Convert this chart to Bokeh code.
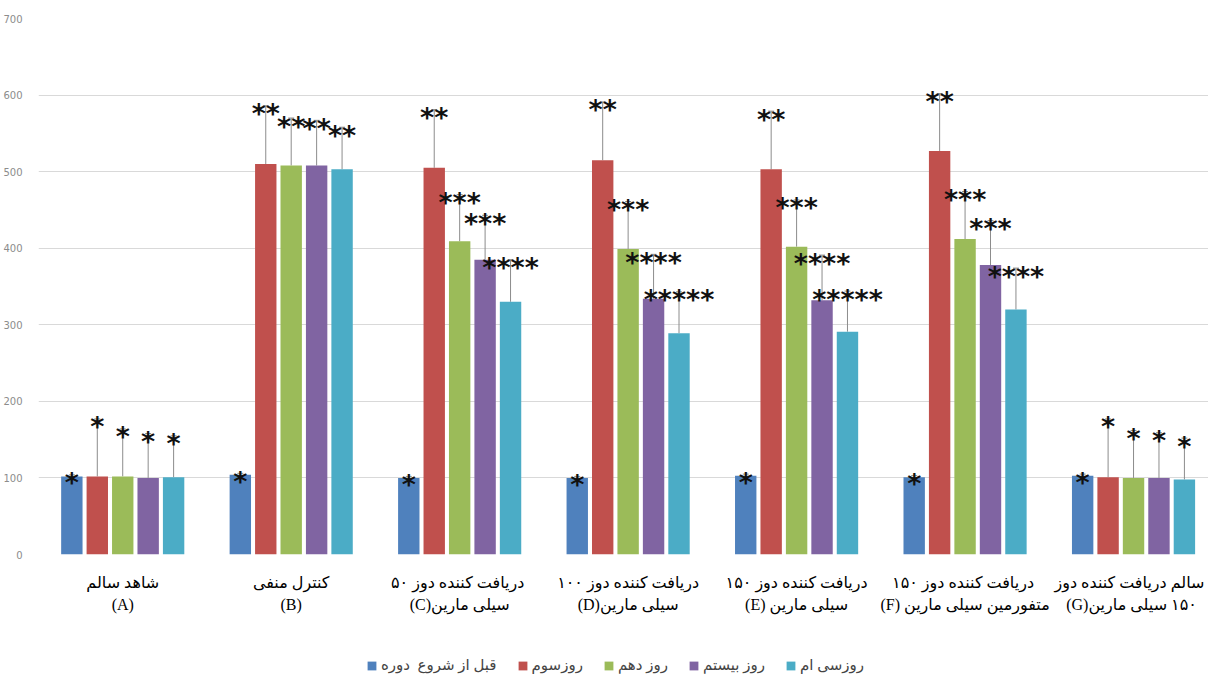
import numpy as np
from bokeh.plotting import figure
from bokeh.layouts import column
from bokeh.models import (ColumnDataSource, Range1d, FixedTicker, Whisker, TeeHead,
                          Legend, LegendItem)
from bokeh.core.properties import value
from bokeh.embed import file_html
from bokeh.resources import INLINE

RLM = "\u200f"

# ---------------- data ----------------
group_labels = [
    "شاهد سالم\n(A)",
    "کنترل منفی\n(B)",
    "دریافت کننده  دوز ۵۰\n(C)سیلی مارین",
    "دریافت کننده دوز ۱۰۰\n(D)سیلی مارین",
    "دریافت کننده دوز ۱۵۰\n(E) سیلی مارین",
    "دریافت کننده  دوز ۱۵۰\n(F) متفورمین سیلی مارین",
    "سالم  دریافت کننده دوز\n(G)" + RLM + "۱۵۰ سیلی مارین",
]
series_names = ["قبل از شروع  دوره", "روزسوم", "روز دهم", "روز بیستم", "روزسی ام"]

before = [102, 104, 100, 100, 103, 101, 103]
day3 = [102, 510, 505, 515, 503, 527, 101]
day10 = [102, 508, 409, 399, 402, 412, 100]
day20 = [100, 508, 385, 334, 332, 378, 100]
day30 = [101, 503, 330, 289, 291, 320, 98]

sd_before = [2, 2, 2, 2, 2, 2, 2]
sd_day3 = [75, 76, 76, 76, 76, 75, 76]
sd_day10 = [62, 62, 61, 62, 61, 62, 62]
sd_day20 = [58, 59, 58, 58, 59, 58, 59]
sd_day30 = [54, 55, 55, 54, 53, 54, 54]

stars_before = ["*", "*", "*", "*", "*", "*", "*"]
stars_day3 = ["*", "**", "**", "**", "**", "**", "*"]
stars_day10 = ["*", "**", "***", "***", "***", "***", "*"]
stars_day20 = ["*", "**", "***", "****", "****", "***", "*"]
stars_day30 = ["*", "**", "****", "*****", "*****", "****", "*"]

y_ticks = [0, 100, 200, 300, 400, 500, 600, 700]

colors = ["#4F81BD", "#C0504D", "#9BBB59", "#8064A2", "#4BACC6"]
series_vals = [before, day3, day10, day20, day30]
series_sd = [sd_before, sd_day3, sd_day10, sd_day20, sd_day30]
series_stars = [stars_before, stars_day3, stars_day10, stars_day20, stars_day30]

# ---------------- main figure ----------------
p = figure(width=1208, height=630, x_range=Range1d(0, 6.945), y_range=Range1d(0, 700),
           output_backend="svg", toolbar_location=None,
           min_border_left=32, min_border_right=0, min_border_top=18,
           min_border_bottom=76)
p.outline_line_color = None
p.background_fill_color = "white"
p.xgrid.visible = False
p.ygrid.grid_line_color = "#D9D9D9"
p.ygrid.grid_line_width = 1

centers = np.arange(len(group_labels)) + 0.5
step = 0.151
bw = 0.127

for i in range(5):
    x = centers + (i - 2) * step
    vals = np.array(series_vals[i], dtype=float)
    up = vals + np.array(series_sd[i], dtype=float)
    src = ColumnDataSource(dict(x=x, top=vals, upper=up, stars=series_stars[i]))
    p.vbar(x="x", top="top", width=bw, source=src, fill_color=colors[i],
           line_color=None)
    w = Whisker(source=src, base="x", upper="upper", lower="top",
                line_color="#8C8C8C", line_width=1,
                upper_head=TeeHead(size=6, line_color="#8C8C8C", line_width=1),
                lower_head=None)
    p.add_layout(w)
    p.text(x="x", y="upper", text="stars", source=src, text_align="center",
           text_baseline="alphabetic", y_offset=8,
           text_font=value("DejaVu Sans"), text_font_size="27px",
           text_font_style="bold", text_color="#111111")

# y axis
p.yaxis.ticker = FixedTicker(ticks=y_ticks)
p.yaxis.axis_line_color = None
p.yaxis.major_tick_line_color = None
p.yaxis.minor_tick_line_color = None
p.yaxis.major_label_text_font_size = "10px"
p.yaxis.major_label_text_color = "#8C8C8C"
p.yaxis.major_label_text_font = "DejaVu Sans"
p.yaxis.major_label_standoff = 10

# x axis
p.xaxis.ticker = FixedTicker(ticks=list(centers))
p.xaxis.major_label_overrides = {float(c): lab for c, lab in zip(centers, group_labels)}
p.xaxis.axis_line_color = None
p.xaxis.major_tick_line_color = None
p.xaxis.minor_tick_line_color = None
p.xaxis.major_label_text_font_size = "16px"
p.xaxis.major_label_text_font = "Liberation Serif, DejaVu Sans"
p.xaxis.major_label_text_color = "#000000"
p.xaxis.major_label_standoff = 13
p.xaxis.major_label_text_line_height = 1.33

# ---------------- legend strip ----------------
lg = figure(width=1208, height=50, x_range=Range1d(0, 1), y_range=Range1d(0, 1),
            output_backend="svg", toolbar_location=None,
            min_border_left=0, min_border_right=0, min_border_top=0,
            min_border_bottom=0)
lg.axis.visible = False
lg.grid.visible = False
lg.outline_line_color = None
items = []
for i in range(5):
    # placeholder bar outside the visible range; only its legend swatch is shown
    r = lg.vbar(x=[-5.0], top=[-5.0], bottom=[-6.0], width=0.1,
                fill_color=colors[i], line_color=None)
    items.append(LegendItem(label=series_names[i], renderers=[r]))
legend = Legend(items=items, orientation="horizontal", location=(328, 6),
                glyph_width=11, glyph_height=11, label_text_font_size="15px",
                label_text_font="Liberation Serif, DejaVu Sans",
                label_standoff=4, spacing=20, border_line_color=None,
                background_fill_alpha=0, margin=0, padding=2)
lg.add_layout(legend, "center")

layout = column(p, lg, spacing=0)
open("out.html", "w").write(file_html(layout, INLINE))
